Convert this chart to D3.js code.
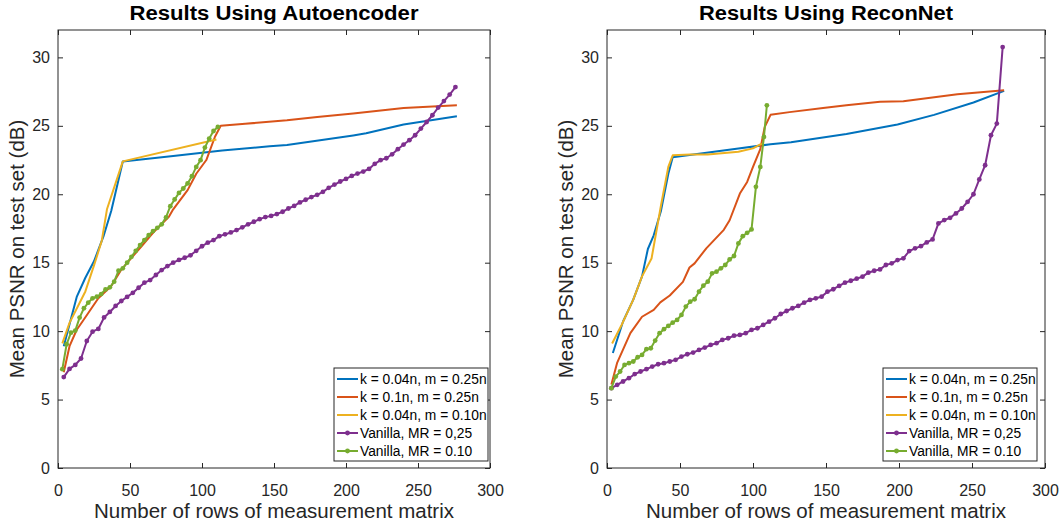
<!DOCTYPE html>
<html>
<head>
<meta charset="utf-8">
<script src="https://cdn.jsdelivr.net/npm/d3@7"></script>
<style>
  body { margin: 0; background: #fff; }
  svg { font-family: "Liberation Sans", Arial, Helvetica, sans-serif; }
</style>
</head>
<body>
<svg id="chart" width="1064" height="526"></svg>
<script>
// ---- data ----
const seriesNames = ['k = 0.04n, m = 0.25n', 'k = 0.1n, m = 0.25n', 'k = 0.04n, m = 0.10n', 'Vanilla, MR = 0,25', 'Vanilla, MR = 0.10'];
const seriesColors = ['#0072BD', '#D95319', '#EDB120', '#7E2F8E', '#77AC30'];
const xTicks = [0, 50, 100, 150, 200, 250, 300];
const yTicks = [0, 5, 10, 15, 20, 25, 30];

// left panel: autoencoder
const aeBlueX = [4, 7, 13, 19, 25, 31.5, 37, 45, 80, 114, 147, 159, 205, 214, 240, 277];
const aeBlueY = [8.9, 10.1, 12.5, 13.9, 15.1, 16.9, 18.8, 22.4, 22.8, 23.2, 23.5, 23.6, 24.3, 24.45, 25.1, 25.7];
const aeOrangeX = [4, 8, 13, 17, 28, 37, 44, 58, 67, 77, 80, 90, 96, 103, 109, 113, 130, 159, 180, 205, 240, 277];
const aeOrangeY = [7.0, 8.9, 10.1, 10.7, 12.4, 13.3, 14.5, 16.2, 17.3, 18.35, 18.9, 20.3, 21.5, 22.5, 24.2, 25.0, 25.15, 25.4, 25.65, 25.9, 26.3, 26.5];
const aeYellowX = [3, 8, 19, 25, 30.4, 34, 45, 110];
const aeYellowY = [9.1, 10.6, 12.9, 14.8, 16.6, 18.9, 22.4, 24.0];
const aePurpleX = d3.range(4, 277, 4);
const aePurpleY = [6.64, 7.24, 7.53, 8.0, 9.28, 9.96, 10.16, 11.0, 11.4, 11.84,
  12.2, 12.5, 12.8, 13.17, 13.54, 13.73, 14.1, 14.46, 14.75, 15.0,
  15.2, 15.36, 15.54, 15.87, 16.2, 16.46, 16.65, 16.94, 17.07, 17.21,
  17.38, 17.58, 17.8, 17.99, 18.18, 18.33, 18.42, 18.55, 18.72, 18.96,
  19.15, 19.4, 19.6, 19.79, 19.96, 20.18, 20.47, 20.71, 20.93, 21.12,
  21.34, 21.51, 21.66, 21.85, 22.22, 22.49, 22.63, 22.92, 23.29, 23.63,
  23.95, 24.31, 24.8, 25.28, 25.77, 26.33, 26.81, 27.28, 27.83];
const aeGreenX = d3.range(3, 112, 3);
const aeGreenY = [7.22, 9.04, 9.89, 10.04, 10.99, 11.67, 12.08, 12.4, 12.52, 12.71,
  13.05, 13.2, 13.61, 14.41, 14.59, 15.0, 15.43, 15.87, 16.29, 16.65,
  17.02, 17.31, 17.55, 17.8, 18.31, 19.13, 19.62, 20.1, 20.42, 20.79,
  21.32, 22.0, 22.49, 23.41, 24.07, 24.62, 24.92];

// right panel: ReconNet
const rnBlueX = [4, 11, 18, 24, 28, 32, 37, 42, 45, 90, 112, 126, 164, 199, 224, 251, 272];
const rnBlueY = [8.4, 10.7, 12.3, 14.0, 16.0, 17.0, 18.8, 21.5, 22.7, 23.35, 23.65, 23.8, 24.4, 25.1, 25.8, 26.7, 27.55];
const rnOrangeX = [3, 7, 16, 24, 32, 36.5, 43, 52, 56.5, 60, 68, 80, 84, 91, 96, 100, 105, 108, 112, 125, 148, 164, 187, 203, 240, 272];
const rnOrangeY = [6.1, 7.7, 9.85, 11.05, 11.55, 12.1, 12.6, 13.6, 14.65, 14.95, 16.05, 17.4, 18.1, 20.05, 20.9, 22.0, 23.3, 24.9, 25.8, 26.0, 26.3, 26.5, 26.75, 26.8, 27.3, 27.6];
const rnYellowX = [3.5, 10, 18, 24, 30.5, 37, 42, 45, 57, 69, 90, 100, 106];
const rnYellowY = [9.1, 10.45, 12.3, 14.0, 15.3, 19.2, 22.0, 22.85, 22.9, 22.9, 23.1, 23.35, 23.7];
const rnPurpleX = d3.range(3, 272, 4);
const rnPurpleY = [5.83, 6.08, 6.32, 6.56, 6.86, 7.05, 7.22, 7.41, 7.58, 7.66,
  7.78, 7.9, 8.14, 8.31, 8.43, 8.63, 8.8, 8.99, 9.12, 9.36,
  9.48, 9.67, 9.72, 9.85, 10.09, 10.21, 10.45, 10.69, 10.94, 11.25,
  11.47, 11.67, 11.84, 12.08, 12.28, 12.4, 12.52, 12.88, 13.06, 13.3,
  13.54, 13.68, 13.83, 13.98, 14.27, 14.41, 14.51, 14.83, 14.95, 15.19,
  15.32, 15.85, 16.05, 16.21, 16.48, 16.7, 17.87, 18.11, 18.28, 18.6,
  18.96, 19.45, 20.0, 21.08, 22.12, 24.31, 25.16, 30.75];
const rnGreenX = [3, 6, 9, 12, 15, 18, 21, 24, 27, 30, 33, 36, 39, 42, 45, 48, 51, 54, 57, 60,
  63, 66, 69, 72, 75, 78, 81, 84, 87, 90, 93, 96, 99, 102, 105, 107.5, 109.5];
const rnGreenY = [5.83, 6.68, 7.05, 7.53, 7.66, 7.78, 8.09, 8.26, 8.68, 8.75,
  9.31, 9.85, 10.14, 10.38, 10.62, 10.82, 11.18, 11.79, 12.15, 12.33,
  12.88, 13.32, 13.61, 14.22, 14.34, 14.59, 14.83, 15.24, 15.49, 16.41,
  16.94, 17.18, 17.43, 20.54, 22.0, 24.19, 26.5];

const zip = (xs, ys) => xs.map((x, i) => ({x: x, y: ys[i]}));

const panels = [
  {
    title: 'Results Using Autoencoder',
    titleWidth: 289,
    left: 58, right: 490, legendLeft: 334,
    series: [zip(aeBlueX, aeBlueY), zip(aeOrangeX, aeOrangeY), zip(aeYellowX, aeYellowY),
             zip(aePurpleX, aePurpleY), zip(aeGreenX, aeGreenY)]
  },
  {
    title: 'Results Using ReconNet',
    titleWidth: 254,
    left: 607, right: 1045, legendLeft: 883,
    series: [zip(rnBlueX, rnBlueY), zip(rnOrangeX, rnOrangeY), zip(rnYellowX, rnYellowY),
             zip(rnPurpleX, rnPurpleY), zip(rnGreenX, rnGreenY)]
  }
];

const plotTop = 30, plotBottom = 468;
const axisColor = '#262626';
const withMarkers = [false, false, false, true, true];

const svg = d3.select('#chart');

panels.forEach(p => {
  const x = d3.scaleLinear().domain([0, 300]).range([p.left, p.right]);
  const y = d3.scaleLinear().domain([0, 32]).range([plotBottom, plotTop]);
  const g = svg.append('g');

  // lines
  const line = d3.line().x(d => x(d.x)).y(d => y(d.y));
  p.series.forEach((s, i) => {
    g.append('path')
      .datum(s)
      .attr('d', line)
      .attr('fill', 'none')
      .attr('stroke', seriesColors[i])
      .attr('stroke-width', 2)
      .attr('stroke-linejoin', 'round');
    if (withMarkers[i]) {
      g.selectAll(null)
        .data(s)
        .join('circle')
        .attr('cx', d => x(d.x))
        .attr('cy', d => y(d.y))
        .attr('r', 2.4)
        .attr('fill', seriesColors[i]);
    }
  });

  // axes, ticks pointing inward like matlab
  const styleAxis = sel => {
    sel.select('.domain').remove();
    sel.selectAll('line').attr('stroke', axisColor);
    sel.selectAll('text').attr('fill', axisColor).style('font-size', '16px');
  };
  g.append('g').attr('transform', `translate(0,${plotBottom})`)
    .call(d3.axisBottom(x).tickValues(xTicks).tickSizeInner(-5).tickSizeOuter(0).tickPadding(17))
    .call(styleAxis);
  g.append('g').attr('transform', `translate(0,${plotTop})`)
    .call(d3.axisTop(x).tickValues(xTicks).tickSizeInner(-5).tickSizeOuter(0).tickFormat(''))
    .call(styleAxis);
  g.append('g').attr('transform', `translate(${p.left},0)`)
    .call(d3.axisLeft(y).tickValues(yTicks).tickSizeInner(-5).tickSizeOuter(0).tickPadding(8))
    .call(styleAxis);
  g.append('g').attr('transform', `translate(${p.right},0)`)
    .call(d3.axisRight(y).tickValues(yTicks).tickSizeInner(-5).tickSizeOuter(0).tickFormat(''))
    .call(styleAxis);

  g.append('rect')
    .attr('x', p.left).attr('y', plotTop)
    .attr('width', p.right - p.left).attr('height', plotBottom - plotTop)
    .attr('fill', 'none').attr('stroke', axisColor).attr('stroke-width', 1);

  // titles and labels
  const cx = (p.left + p.right) / 2;
  g.append('text')
    .attr('x', cx).attr('y', 20)
    .attr('text-anchor', 'middle')
    .attr('font-weight', 'bold')
    .style('font-size', '20px')
    .attr('textLength', p.titleWidth)
    .attr('lengthAdjust', 'spacingAndGlyphs')
    .attr('fill', '#000')
    .text(p.title);
  g.append('text')
    .attr('x', cx).attr('y', 518)
    .attr('text-anchor', 'middle')
    .style('font-size', '20.5px')
    .attr('fill', axisColor)
    .text('Number of rows of measurement matrix');
  g.append('text')
    .attr('transform', `translate(${p.left - 34},${(plotTop + plotBottom) / 2}) rotate(-90)`)
    .attr('text-anchor', 'middle')
    .style('font-size', '20.5px')
    .attr('fill', axisColor)
    .text('Mean PSNR on test set (dB)');

  // legend
  const ly = 368;
  const leg = g.append('g').attr('transform', `translate(${p.legendLeft},${ly})`);
  leg.append('rect')
    .attr('width', 154).attr('height', 93)
    .attr('fill', '#fff').attr('stroke', axisColor).attr('stroke-width', 1);
  seriesNames.forEach((name, i) => {
    const ry = 11 + i * 18;
    leg.append('line')
      .attr('x1', 3).attr('x2', 24).attr('y1', ry).attr('y2', ry)
      .attr('stroke', seriesColors[i]).attr('stroke-width', 2);
    if (withMarkers[i]) {
      leg.append('circle').attr('cx', 13.5).attr('cy', ry).attr('r', 2.4).attr('fill', seriesColors[i]);
    }
    leg.append('text')
      .attr('x', 26).attr('y', ry).attr('dy', '0.35em')
      .style('font-size', '13.8px')
      .attr('fill', '#000')
      .text(name);
  });
});
</script>
</body>
</html>
